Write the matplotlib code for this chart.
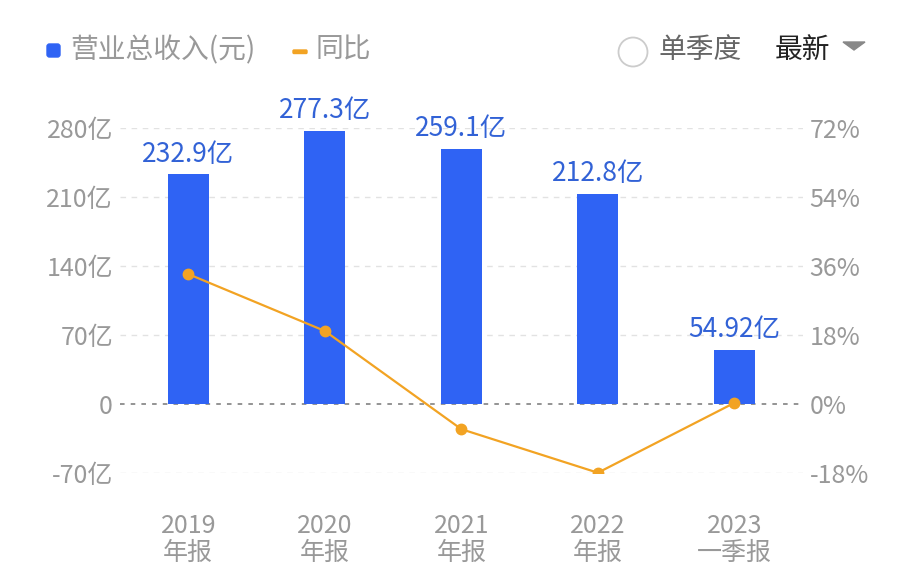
import numpy as np
import matplotlib.pyplot as plt
from matplotlib.patches import FancyBboxPatch, Circle, Polygon

plt.rcParams['font.family'] = ['Noto Sans CJK SC', 'DejaVu Sans']
plt.rcParams['axes.unicode_minus'] = False

# datos
periodos = ['2019\n年报', '2020\n年报', '2021\n年报', '2022\n年报', '2023\n一季报']
ingresos = [232.9, 277.3, 259.1, 212.8, 54.92]   # 亿
etiquetas = ['232.9亿', '277.3亿', '259.1亿', '212.8亿', '54.92亿']
yoy = [33.9, 19.06, -6.56, -17.93, 0.3]          # %

izq_ticks = [-70, 0, 70, 140, 210, 280]
izq_labels = ['-70亿', '0', '70亿', '140亿', '210亿', '280亿']
der_ticks = [-18, 0, 18, 36, 54, 72]
der_labels = ['-18%', '0%', '18%', '36%', '54%', '72%']

azul = '#2f63f4'
azul_txt = '#3262d6'
naranja = '#f2a323'
gris = '#999999'

fig = plt.figure(figsize=(9.09, 5.66), dpi=100)
ax = fig.add_axes([0.132, 0.1643, 0.751, 0.6095])
ax2 = ax.twinx()

xx = np.arange(len(periodos))

# grilla
for t in izq_ticks:
    if t == 0:
        ax.axhline(t, color='#777777', lw=1.1, ls=(0, (3, 4)), zorder=1)
    else:
        ax.axhline(t, color='#e2e2e2', lw=1.0, ls=(0, (4, 4)), zorder=0)

ax.bar(xx, ingresos, width=0.3, color=azul, zorder=2)
for x, v, s in zip(xx, ingresos, etiquetas):
    ax.annotate(s, (x, v), xytext=(0, 5), textcoords='offset points',
                ha='center', va='bottom', color=azul_txt, fontsize=19, zorder=4)

ax.set_xlim(-0.5, 4.5)
ax.set_ylim(-70, 280)
ax.set_yticks(izq_ticks)
ax.set_yticklabels(izq_labels)
ax.set_xticks(xx)
ax.set_xticklabels(periodos, linespacing=1.05)

ax2.plot(xx, yoy, color=naranja, lw=1.6, marker='o', ms=7.5, zorder=5)
ax2.set_ylim(-18, 72)
ax2.set_yticks(der_ticks)
ax2.set_yticklabels(der_labels)

for a in (ax, ax2):
    for sp in a.spines.values():
        sp.set_visible(False)
    a.tick_params(length=0, labelsize=18, labelcolor=gris)
ax.tick_params(axis='y', pad=5)
ax2.tick_params(axis='y', pad=5)
ax.tick_params(axis='x', pad=29)

# leyenda superior (coordenadas en pulgadas desde abajo-izquierda)
tr = fig.dpi_scale_trans
H = 5.66
fig.patches.append(FancyBboxPatch((0.47, H - 0.57), 0.13, 0.13,
                                  boxstyle='round,pad=0,rounding_size=0.025',
                                  transform=tr, color=azul))
fig.text(0.70, H - 0.50, '营业总收入(元)', fontsize=20, color=gris, va='center', transform=tr)
fig.patches.append(FancyBboxPatch((2.93, H - 0.535), 0.14, 0.035,
                                  boxstyle='round,pad=0,rounding_size=0.01',
                                  transform=tr, color=naranja))
fig.text(3.16, H - 0.50, '同比', fontsize=20, color=gris, va='center', transform=tr)

fig.patches.append(Circle((6.33, H - 0.52), 0.145, transform=tr,
                          fill=False, ec='#cccccc', lw=1.3))
fig.text(6.58, H - 0.50, '单季度', fontsize=20, color='#666666', va='center', transform=tr)
fig.text(7.75, H - 0.50, '最新', fontsize=20, color='#222222', va='center', transform=tr)
fig.patches.append(Polygon([(8.43, H - 0.42), (8.65, H - 0.42), (8.54, H - 0.50)],
                           closed=True, transform=tr, color='#888888'))

fig.savefig('out.png', dpi=100)
